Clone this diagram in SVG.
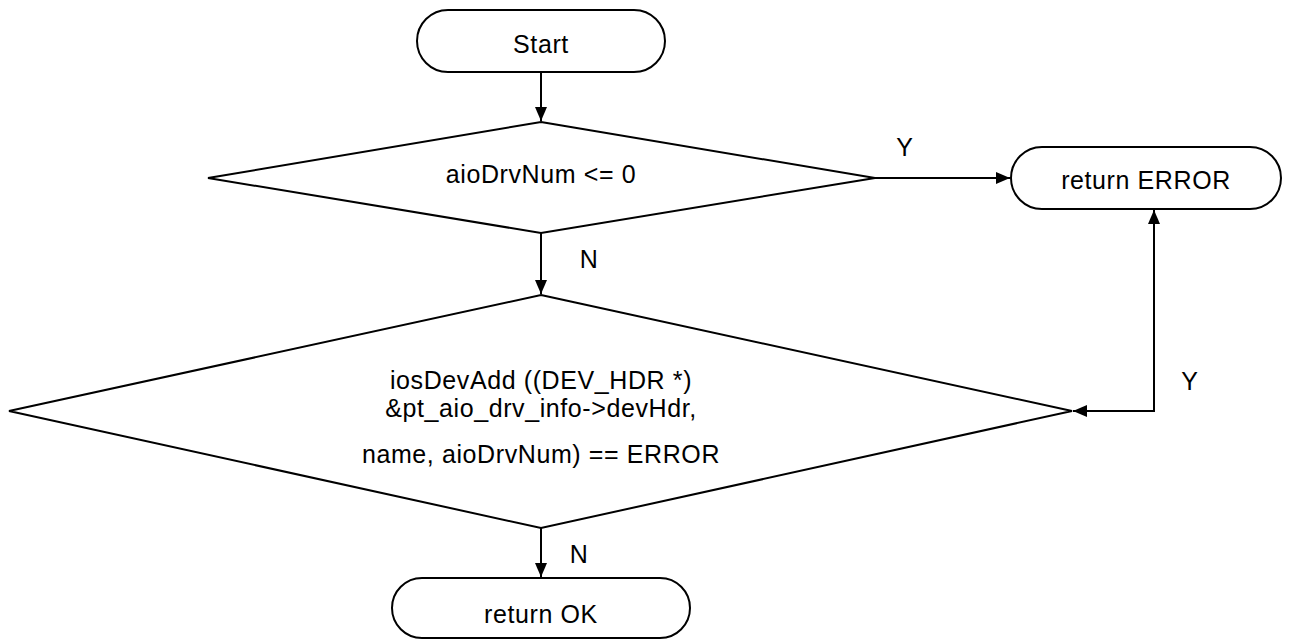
<svg xmlns="http://www.w3.org/2000/svg" width="1302" height="642" viewBox="0 0 1302 642">
<style>
.shape{fill:#ffffff;stroke:#000000;stroke-width:2}
.conn{fill:none;stroke:#000000;stroke-width:2}
text{font-family:"Liberation Sans",Arial,sans-serif;font-size:25px;fill:#000000;letter-spacing:0.6px}
.c{text-anchor:middle}
</style>
<defs>
<marker id="arrow" viewBox="0 0 14 12" refX="14" refY="6" markerWidth="14" markerHeight="12" markerUnits="userSpaceOnUse" orient="auto-start-reverse">
<path d="M0,0 L14,6 L0,12 Z" fill="#000000"/>
</marker>
</defs>
<g id="connectors">
<line class="conn" x1="541" y1="72" x2="541" y2="121" marker-end="url(#arrow)"/>
<line class="conn" x1="875" y1="178" x2="1010" y2="178" marker-end="url(#arrow)"/>
<line class="conn" x1="541" y1="233" x2="541" y2="294" marker-end="url(#arrow)"/>
<polyline class="conn" points="1073,411 1154,411 1154,210" marker-start="url(#arrow)" marker-end="url(#arrow)"/>
<line class="conn" x1="541" y1="528" x2="541" y2="577" marker-end="url(#arrow)"/>
<text x="905" y="156" class="c">Y</text>
<text x="589" y="268" class="c">N</text>
<text x="1190" y="390" class="c">Y</text>
<text x="579" y="563" class="c">N</text>
</g>
<g id="start">
<rect class="shape" x="417" y="10" width="248" height="62" rx="31" ry="31"/>
<text x="541" y="53" class="c">Start</text>
</g>
<g id="decision1">
<polygon class="shape" points="541,122 875,178 541,233 208,178"/>
<text x="541" y="183" class="c">aioDrvNum &lt;= 0</text>
</g>
<g id="returnError">
<rect class="shape" x="1011" y="147" width="270" height="62" rx="31" ry="31"/>
<text x="1146" y="189" class="c">return ERROR</text>
</g>
<g id="decision2">
<polygon class="shape" points="541,295 1072,411 541,528 9,411"/>
<text x="541" y="389" class="c">iosDevAdd ((DEV_HDR *)</text>
<text x="541" y="417" class="c">&amp;pt_aio_drv_info-&gt;devHdr,</text>
<text x="541" y="463" class="c">name, aioDrvNum) == ERROR</text>
</g>
<g id="returnOK">
<rect class="shape" x="392" y="578" width="298" height="60" rx="30" ry="30"/>
<text x="541" y="623" class="c">return OK</text>
</g>
</svg>
